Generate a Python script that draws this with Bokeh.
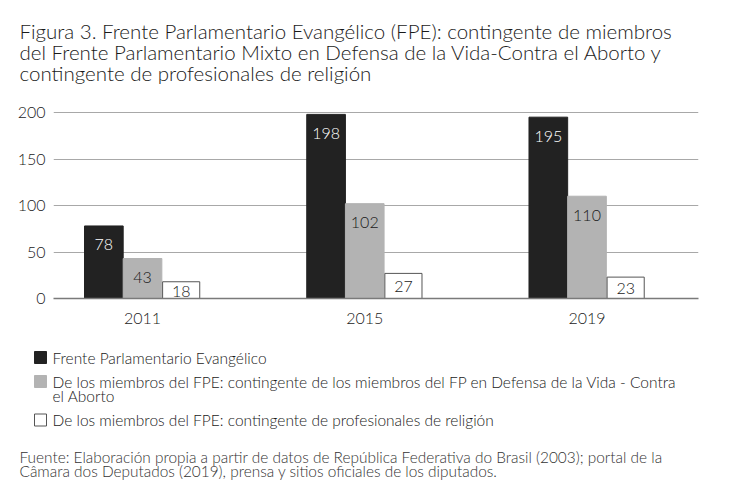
from bokeh.plotting import figure
from bokeh.layouts import column
from bokeh.models import ColumnDataSource, FixedTicker, Range1d
from bokeh.transform import dodge
from bokeh.core.properties import value
from bokeh.embed import file_html
from bokeh.resources import INLINE

# ---- data ----
years = ["2011", "2015", "2019"]
fpe = [78, 198, 195]
vida = [43, 102, 110]
religion = [18, 27, 23]
y_ticks = [0, 50, 100, 150, 200]
series_names = [
    ["Frente Parlamentario Evangélico"],
    ["De los miembros del FPE: contingente de los miembros del FP en Defensa de la Vida - Contra",
     "el Aborto"],
    ["De los miembros del FPE: contingente de profesionales de religión"],
]
title_lines = [
    "Figura 3. Frente Parlamentario Evangélico (FPE): contingente de miembros",
    "del Frente Parlamentario Mixto en Defensa de la Vida-Contra el Aborto y",
    "contingente de profesionales de religión",
]
source_lines = [
    "Fuente: Elaboración propia a partir de datos de República Federativa do Brasil (2003); portal de la",
    "Câmara dos Deputados (2019), prensa y sitios oficiales de los diputados.",
]

FONT = "Lato Light"
TXT = "#1a1a1a"
BLACK = "#222222"
GRAY = "#b3b3b3"
WHITE = "#ffffff"
EDGE = "#555555"
W = 730
HA, HB, HC = 95, 245, 162


def blank(h):
    f = figure(width=W, height=h, output_backend="svg", toolbar_location=None,
               title=None, frame_align=False,
               x_range=Range1d(0, W), y_range=Range1d(h, 0),
               x_axis_type=None, y_axis_type=None,
               min_border=0, min_border_left=0, min_border_right=0,
               min_border_top=0, min_border_bottom=0)
    f.outline_line_color = None
    f.grid.visible = False
    f.background_fill_color = "white"
    f.border_fill_color = "white"
    return f


# ---- title ----
pa = blank(HA)
pa.text(x=[19] * len(title_lines), y=[30 + 21 * i for i in range(len(title_lines))],
        text=title_lines, text_font=value(FONT), text_font_size="20.5px",
        text_color=TXT, text_baseline="alphabetic", text_align="left")

# ---- chart ----
src = ColumnDataSource(dict(
    x=list(range(len(years))),
    fpe=fpe, vida=vida, religion=religion,
    rel_mid=[v / 2 for v in religion],
    fpe_l=[str(v) for v in fpe],
    vida_l=[str(v) for v in vida],
    rel_l=[str(v) for v in religion],
))

pb = figure(width=W, height=HB, output_backend="svg", toolbar_location=None,
            title=None, frame_align=False,
            x_range=Range1d(-0.4005, 2.5017), y_range=Range1d(0, 205.4),
            min_border_left=53, min_border_right=32, min_border_top=12, min_border_bottom=42)
pb.outline_line_color = None
pb.background_fill_color = "white"
pb.border_fill_color = "white"

bw = 0.174
pb.vbar(x=dodge("x", -bw, range=pb.x_range), top="fpe", width=bw, source=src,
        fill_color=BLACK, line_color=BLACK)
pb.vbar(x="x", top="vida", width=bw, source=src, fill_color=GRAY, line_color=GRAY)
pb.vbar(x=dodge("x", bw, range=pb.x_range), top="religion", width=bw * 0.96, source=src,
        fill_color=WHITE, line_color=EDGE, line_width=1)

common = dict(source=src, text_align="center", text_baseline="middle",
              text_font=value(FONT), text_font_size="16px")
pb.text(x=dodge("x", -bw, range=pb.x_range), y="fpe", text="fpe_l", y_offset=19,
        text_color="white", **common)
pb.text(x="x", y="vida", text="vida_l", y_offset=19, text_color=TXT, **common)
pb.text(x=dodge("x", bw, range=pb.x_range), y="rel_mid", text="rel_l", y_offset=1,
        text_color=TXT, **common)

pb.xgrid.visible = False
pb.ygrid.grid_line_color = "#a8a8a8"
pb.ygrid.grid_line_width = 1.2
pb.xaxis.ticker = FixedTicker(ticks=list(range(len(years))))
pb.xaxis.major_label_overrides = {i: y for i, y in enumerate(years)}
pb.xaxis.axis_line_color = "#7a7a7a"
pb.xaxis.axis_line_width = 1.6
pb.xaxis.major_tick_line_color = None
pb.xaxis.minor_tick_line_color = None
pb.xaxis.major_label_standoff = 8
pb.yaxis.ticker = FixedTicker(ticks=y_ticks)
pb.yaxis.axis_line_color = None
pb.yaxis.major_tick_line_color = None
pb.yaxis.minor_tick_line_color = None
pb.yaxis.major_label_standoff = 2
for ax in (pb.xaxis[0], pb.yaxis[0]):
    ax.major_label_text_font = FONT
    ax.major_label_text_font_size = "16px"
    ax.major_label_text_color = TXT

# ---- legend and source ----
pc = blank(HC)
off = HA + HB
sq_y = [357, 381, 419.5]
base_y = [[357], [381, 395], [419]]
colors = [BLACK, GRAY, WHITE]
lines = [EDGE if c == WHITE else c for c in colors]
pc.rect(x=[40] * 3, y=[v - off for v in sq_y], width=12, height=12,
        fill_color=colors, line_color=lines, line_width=1)
tx, ty = [], []
for names, bys in zip(series_names, base_y):
    for n, by in zip(names, bys):
        tx.append(n)
        ty.append(by - off)
pc.text(x=[52] * len(tx), y=ty, text=tx, text_font=value(FONT), text_font_size="15.5px",
        text_color=TXT, text_baseline="alphabetic", text_align="left")
pc.text(x=[19] * len(source_lines), y=[456 - off + 14.5 * i for i in range(len(source_lines))],
        text=source_lines, text_font=value(FONT), text_font_size="15.4px",
        text_color="#333333", text_baseline="alphabetic", text_align="left")

layout = column(pa, pb, pc, spacing=0)
open("out.html", "w").write(file_html(layout, INLINE))
